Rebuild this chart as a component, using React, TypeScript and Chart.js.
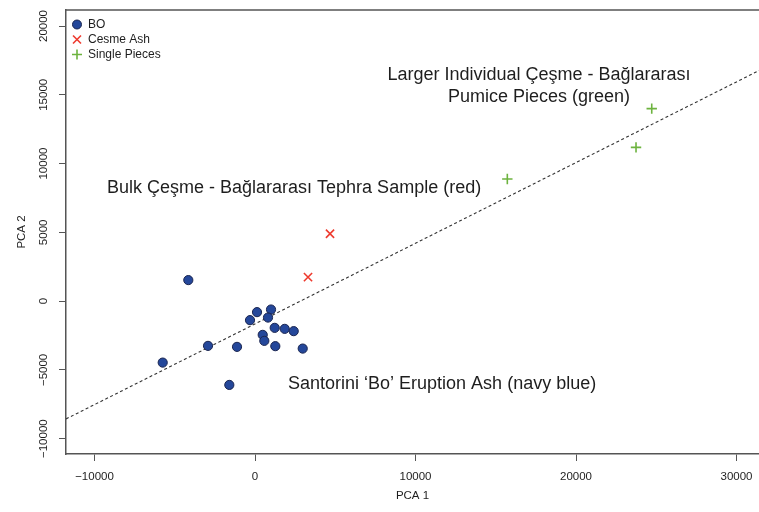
import React, { useEffect, useRef } from "react";
import { Chart, registerables } from "chart.js";
Chart.register(...registerables);

const boX = [-4156, -2928, -1121, -312, 125, 997, 810, 1227, 1850, 2411, 480, 579, 1265, 2972, -5751, -1601];
const boY = [1528, -3253, -3326, -1383, -801, -611, -1194, -1943, -2016, -2183, -2453, -2889, -3275, -3450, -4469, -6092];
const ashX = [4673, 3302];
const ashY = [4898, 1747];
const pieceX = [24717, 23738, 15720];
const pieceY = [13996, 11179, 8879];
const fitX = [-11776, 31400];
const fitY = [-8566, 16761];
const seriesNames = ["BO", "Cesme Ash", "Single Pieces"];
const xTicks = [-10000, 0, 10000, 20000, 30000];
const yTicks = [-10000, -5000, 0, 5000, 10000, 15000, 20000];
const noteText = [
  "Larger Individual Çeşme - Bağlararası",
  "Pumice Pieces (green)",
  "Bulk Çeşme - Bağlararası Tephra Sample (red)",
  "Santorini \u2018Bo\u2019 Eruption Ash (navy blue)",
];
const noteX = [17695, 17695, -9221, 2056];
const noteY = [16470, 14869, 8246, -6019];
const noteAlign: CanvasTextAlign[] = ["center", "center", "left", "left"];

const NAVY = "#24479a";
const RED = "#ee3a2e";
const GREEN = "#6db33f";
const AXIS = "#555555";
const FONT = "'Liberation Sans', Arial, Helvetica, sans-serif";

const fmt = (v: number) => (v < 0 ? "\u2212" + Math.abs(v) : String(v));

const framePlugin = {
  id: "frame",
  afterDraw(chart: any) {
    const { ctx, chartArea } = chart;
    ctx.save();
    ctx.strokeStyle = AXIS;
    ctx.lineWidth = 1.5;
    ctx.beginPath();
    ctx.moveTo(chartArea.left, chartArea.top);
    ctx.lineTo(chartArea.right, chartArea.top);
    ctx.stroke();
    ctx.restore();
  },
};

const notesPlugin = {
  id: "notes",
  afterDatasetsDraw(chart: any) {
    const { ctx } = chart;
    const xs = chart.scales.x;
    const ys = chart.scales.y;
    ctx.save();
    ctx.fillStyle = "#1e1e1e";
    ctx.font = `18px ${FONT}`;
    ctx.textBaseline = "middle";
    noteText.forEach((t, i) => {
      ctx.textAlign = noteAlign[i];
      ctx.fillText(t, xs.getPixelForValue(noteX[i]), ys.getPixelForValue(noteY[i]));
    });
    ctx.restore();
  },
};

const legendPlugin = {
  id: "customLegend",
  afterDraw(chart: any) {
    const { ctx, chartArea } = chart;
    const cx = chartArea.left + 11;
    const y0 = chartArea.top + 14.5;
    ctx.save();
    ctx.font = `12px ${FONT}`;
    ctx.textBaseline = "middle";
    ctx.textAlign = "left";
    seriesNames.forEach((name, i) => {
      const y = y0 + i * 15;
      if (i === 0) {
        ctx.beginPath();
        ctx.arc(cx, y, 4.5, 0, Math.PI * 2);
        ctx.fillStyle = NAVY;
        ctx.fill();
        ctx.strokeStyle = "#1a2550";
        ctx.lineWidth = 1;
        ctx.stroke();
      } else if (i === 1) {
        ctx.strokeStyle = RED;
        ctx.lineWidth = 1.6;
        ctx.beginPath();
        ctx.moveTo(cx - 4, y - 4);
        ctx.lineTo(cx + 4, y + 4);
        ctx.moveTo(cx + 4, y - 4);
        ctx.lineTo(cx - 4, y + 4);
        ctx.stroke();
      } else {
        ctx.strokeStyle = GREEN;
        ctx.lineWidth = 1.6;
        ctx.beginPath();
        ctx.moveTo(cx - 5, y);
        ctx.lineTo(cx + 5, y);
        ctx.moveTo(cx, y - 5);
        ctx.lineTo(cx, y + 5);
        ctx.stroke();
      }
      ctx.fillStyle = "#1e1e1e";
      ctx.fillText(name, cx + 11, y + 0.5);
    });
    ctx.restore();
  },
};

export default function App() {
  const ref = useRef<HTMLCanvasElement>(null);
  useEffect(() => {
    if (!ref.current) return;
    const toPts = (xs: number[], ys: number[]) => xs.map((x, i) => ({ x, y: ys[i] }));
    const chart = new Chart(ref.current, {
      type: "scatter",
      data: {
        datasets: [
          {
            type: "line",
            label: "fit",
            data: toPts(fitX, fitY),
            borderColor: "#333333",
            borderWidth: 1.1,
            borderDash: [3, 2.5],
            pointRadius: 0,
            fill: false,
            order: 5,
          } as any,
          {
            label: seriesNames[0],
            data: toPts(boX, boY),
            pointStyle: "circle",
            pointRadius: 4.6,
            backgroundColor: NAVY,
            borderColor: "#1a2550",
            borderWidth: 1,
          },
          {
            label: seriesNames[1],
            data: toPts(ashX, ashY),
            pointStyle: "crossRot",
            pointRadius: 5.8,
            borderColor: RED,
            backgroundColor: RED,
            borderWidth: 1.6,
          },
          {
            label: seriesNames[2],
            data: toPts(pieceX, pieceY),
            pointStyle: "cross",
            pointRadius: 5.2,
            borderColor: GREEN,
            backgroundColor: GREEN,
            borderWidth: 1.6,
          },
        ],
      },
      options: {
        responsive: false,
        animation: false,
        devicePixelRatio: 1,
        layout: { autoPadding: false, padding: { top: 10, right: 0, left: 0, bottom: 0 } },
        plugins: { legend: { display: false }, tooltip: { enabled: false } },
        scales: {
          x: {
            type: "linear",
            min: -11776,
            max: 31400,
            afterBuildTicks: (s: any) => {
              s.ticks = xTicks.map((v) => ({ value: v }));
            },
            afterFit: (s: any) => {
              s.height = 58;
              s.paddingLeft = 0;
              s.paddingRight = 0;
            },
            grid: {
              drawOnChartArea: false,
              drawTicks: true,
              tickLength: 7,
              tickColor: AXIS,
              tickWidth: 1,
            },
            border: { display: true, color: AXIS, width: 1.5 },
            ticks: {
              padding: 9,
              color: "#1e1e1e",
              font: { family: FONT, size: 11.5 },
              maxRotation: 0,
              minRotation: 0,
              callback: (v: any) => fmt(Number(v)),
            },
            title: {
              display: true,
              text: "PCA 1",
              color: "#1e1e1e",
              font: { family: FONT, size: 11.5 },
              padding: { top: 0, bottom: 9 },
            },
          },
          y: {
            type: "linear",
            min: -11114,
            max: 21164,
            afterBuildTicks: (s: any) => {
              s.ticks = yTicks.map((v) => ({ value: v }));
            },
            afterFit: (s: any) => {
              s.width = 66;
              s.paddingTop = 0;
              s.paddingBottom = 0;
            },
            grid: {
              drawOnChartArea: false,
              drawTicks: true,
              tickLength: 7,
              tickColor: AXIS,
              tickWidth: 1,
            },
            border: { display: true, color: AXIS, width: 1.5 },
            ticks: {
              padding: -4,
              crossAlign: "center",
              minRotation: 90,
              maxRotation: 90,
              color: "#1e1e1e",
              font: { family: FONT, size: 11.5 },
              callback: (v: any) => fmt(Number(v)),
            },
            title: {
              display: true,
              text: "PCA 2",
              color: "#1e1e1e",
              font: { family: FONT, size: 11.5 },
              padding: { top: 15, bottom: 0 },
            },
          },
        },
      },
      plugins: [framePlugin, notesPlugin, legendPlugin],
    });
    return () => chart.destroy();
  }, []);
  return (
    <div style={{ position: "absolute", left: 0, top: 0, width: 759, height: 512, background: "#fff" }}>
      <canvas ref={ref} width={759} height={512} />
    </div>
  );
}
